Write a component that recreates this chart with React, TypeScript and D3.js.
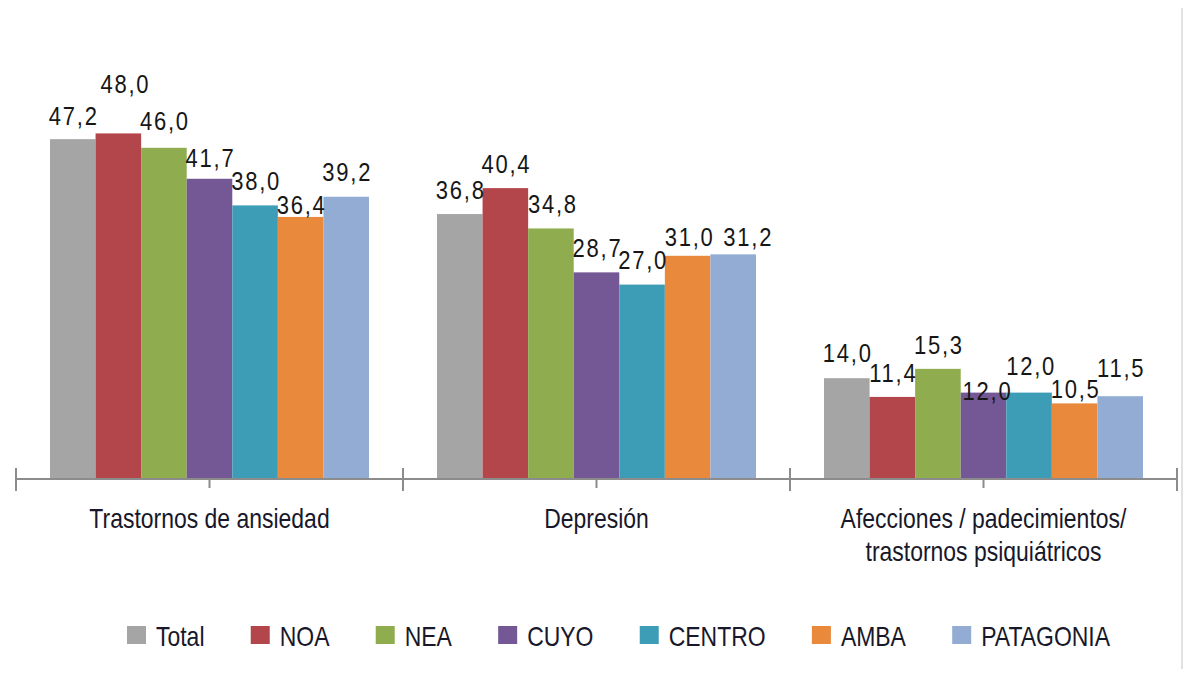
import { useEffect, useRef } from 'react'
import * as d3 from 'd3'

const categories = [
  ['Trastornos de ansiedad'],
  ['Depresión'],
  ['Afecciones / padecimientos/', 'trastornos psiquiátricos'],
]
const series = ['Total', 'NOA', 'NEA', 'CUYO', 'CENTRO', 'AMBA', 'PATAGONIA']
const ansiedad = [47.2, 48.0, 46.0, 41.7, 38.0, 36.4, 39.2]
const depresion = [36.8, 40.4, 34.8, 28.7, 27.0, 31.0, 31.2]
const afecciones = [14.0, 11.4, 15.3, 12.0, 12.0, 10.5, 11.5]
const values = [ansiedad, depresion, afecciones]

const colors = ['#a5a5a5', '#b3464a', '#8fad4e', '#735895', '#3d9db6', '#e8893b', '#93acd4']

// label gap above bar top (px), as placed in the original
const labelGap = [
  [14, 40, 18, 12, 15, 3, 16],
  [15, 15, 15, 15, 16, 10, 8],
  [16, 15, 15, -7, 18, 5, 19],
]
const labelShiftX = [
  [0, 6, 0, 0, 0, 0, 0],
  [0, 0, 1, 0, 0, 1, 14],
  [0, 0, 0, 3, 1, 0, 0],
]

// narrow look: Arial-metric font squeezed horizontally
const FONT = '"Liberation Sans", Arial, sans-serif'
const SQUEEZE = 0.82

export default function App() {
  const svgRef = useRef<SVGSVGElement>(null)

  useEffect(() => {
    if (!svgRef.current) return
    const svg = d3.select(svgRef.current)
    svg.selectAll('*').remove()

    const width = 1200
    const height = 677
    const baseY = 479
    const left = 16
    const right = 1177

    svg.attr('width', width).attr('height', height)

    svg.append('rect').attr('width', width).attr('height', height).attr('fill', '#fff')

    // right border line
    svg.append('line')
      .attr('x1', 1182).attr('x2', 1182)
      .attr('y1', 0).attr('y2', height)
      .attr('stroke', '#e2e2e2').attr('stroke-width', 2)

    const x0 = d3.scaleBand<number>()
      .domain(d3.range(categories.length))
      .range([left, right])

    const x1 = d3.scaleBand<number>()
      .domain(d3.range(series.length))
      .range([34, x0.bandwidth() - 34])

    const y = d3.scaleLinear().domain([0, 50]).range([baseY, baseY - 360])

    const narrowText = (
      parent: d3.Selection<any, any, any, any>,
      x: number,
      yy: number,
      text: string,
      size: number,
      anchor: string,
      color: string,
      spacing = 0,
      squeeze = SQUEEZE
    ) =>
      parent.append('text')
        .attr('transform', `translate(${x},${yy}) scale(${squeeze},1)`)
        .attr('text-anchor', anchor)
        .style('font-family', FONT)
        .style('font-size', `${size}px`)
        .style('letter-spacing', `${spacing}px`)
        .style('fill', color)
        .text(text)

    // Bars
    const groups = svg.selectAll('.grp')
      .data(values)
      .enter()
      .append('g')
      .attr('transform', (_, i) => `translate(${x0(i)},0)`)

    groups.selectAll('rect')
      .data(d => d)
      .enter()
      .append('rect')
      .attr('x', (_, j) => x1(j) || 0)
      .attr('y', d => y(d))
      .attr('width', x1.bandwidth())
      .attr('height', d => baseY - y(d))
      .attr('fill', (_, j) => colors[j])

    // Value labels
    groups.each(function (row, i) {
      const g = d3.select(this)
      row.forEach((d, j) => {
        narrowText(
          g,
          (x1(j) || 0) + x1.bandwidth() / 2 + labelShiftX[i][j] + 1,
          y(d) - labelGap[i][j],
          d.toFixed(1).replace('.', ','),
          25,
          'middle',
          '#161616',
          2,
          0.88
        )
      })
    })

    // Axis
    const axis = svg.append('g')
    axis.append('line')
      .attr('x1', left).attr('x2', right)
      .attr('y1', baseY).attr('y2', baseY)
      .attr('stroke', '#8c8c8c').attr('stroke-width', 2)

    const bounds = d3.range(categories.length + 1).map(i => left + i * x0.bandwidth())
    axis.selectAll('.major')
      .data(bounds)
      .enter()
      .append('line')
      .attr('x1', d => d).attr('x2', d => d)
      .attr('y1', baseY - 11).attr('y2', baseY + 12)
      .attr('stroke', '#8c8c8c').attr('stroke-width', 2)

    axis.selectAll('.minor')
      .data(d3.range(categories.length))
      .enter()
      .append('line')
      .attr('x1', d => (x0(d) || 0) + x0.bandwidth() / 2)
      .attr('x2', d => (x0(d) || 0) + x0.bandwidth() / 2)
      .attr('y1', baseY).attr('y2', baseY + 9)
      .attr('stroke', '#8c8c8c').attr('stroke-width', 2)

    // Category labels
    categories.forEach((lines, i) => {
      lines.forEach((line, k) => {
        narrowText(svg, (x0(i) || 0) + x0.bandwidth() / 2, 528 + k * 33, line, 28, 'middle', '#18182a')
      })
    })

    // Legend
    const items = svg.append('g').selectAll('g')
      .data(series)
      .enter()
      .append('g')
    items.append('rect')
      .attr('width', 19).attr('height', 18)
      .attr('y', 626)
      .attr('fill', (_, j) => colors[j])
    const widths: number[] = []
    items.each(function (d) {
      const t = narrowText(d3.select(this), 29, 646, d, 28, 'start', '#18182a')
      widths.push((t.node() as SVGTextElement).getComputedTextLength() * SQUEEZE + 29)
    })
    const start = 127
    const end = 1110
    const gap = (end - start - d3.sum(widths)) / (series.length - 1)
    let cx = start
    items.attr('transform', (_, j) => {
      const tx = cx
      cx += widths[j] + gap
      return `translate(${tx},0)`
    })
  }, [])

  return (
    <div style={{ margin: -8, width: 1200, height: 677, overflow: 'hidden' }}>
      <svg ref={svgRef} style={{ display: 'block' }} />
    </div>
  )
}
